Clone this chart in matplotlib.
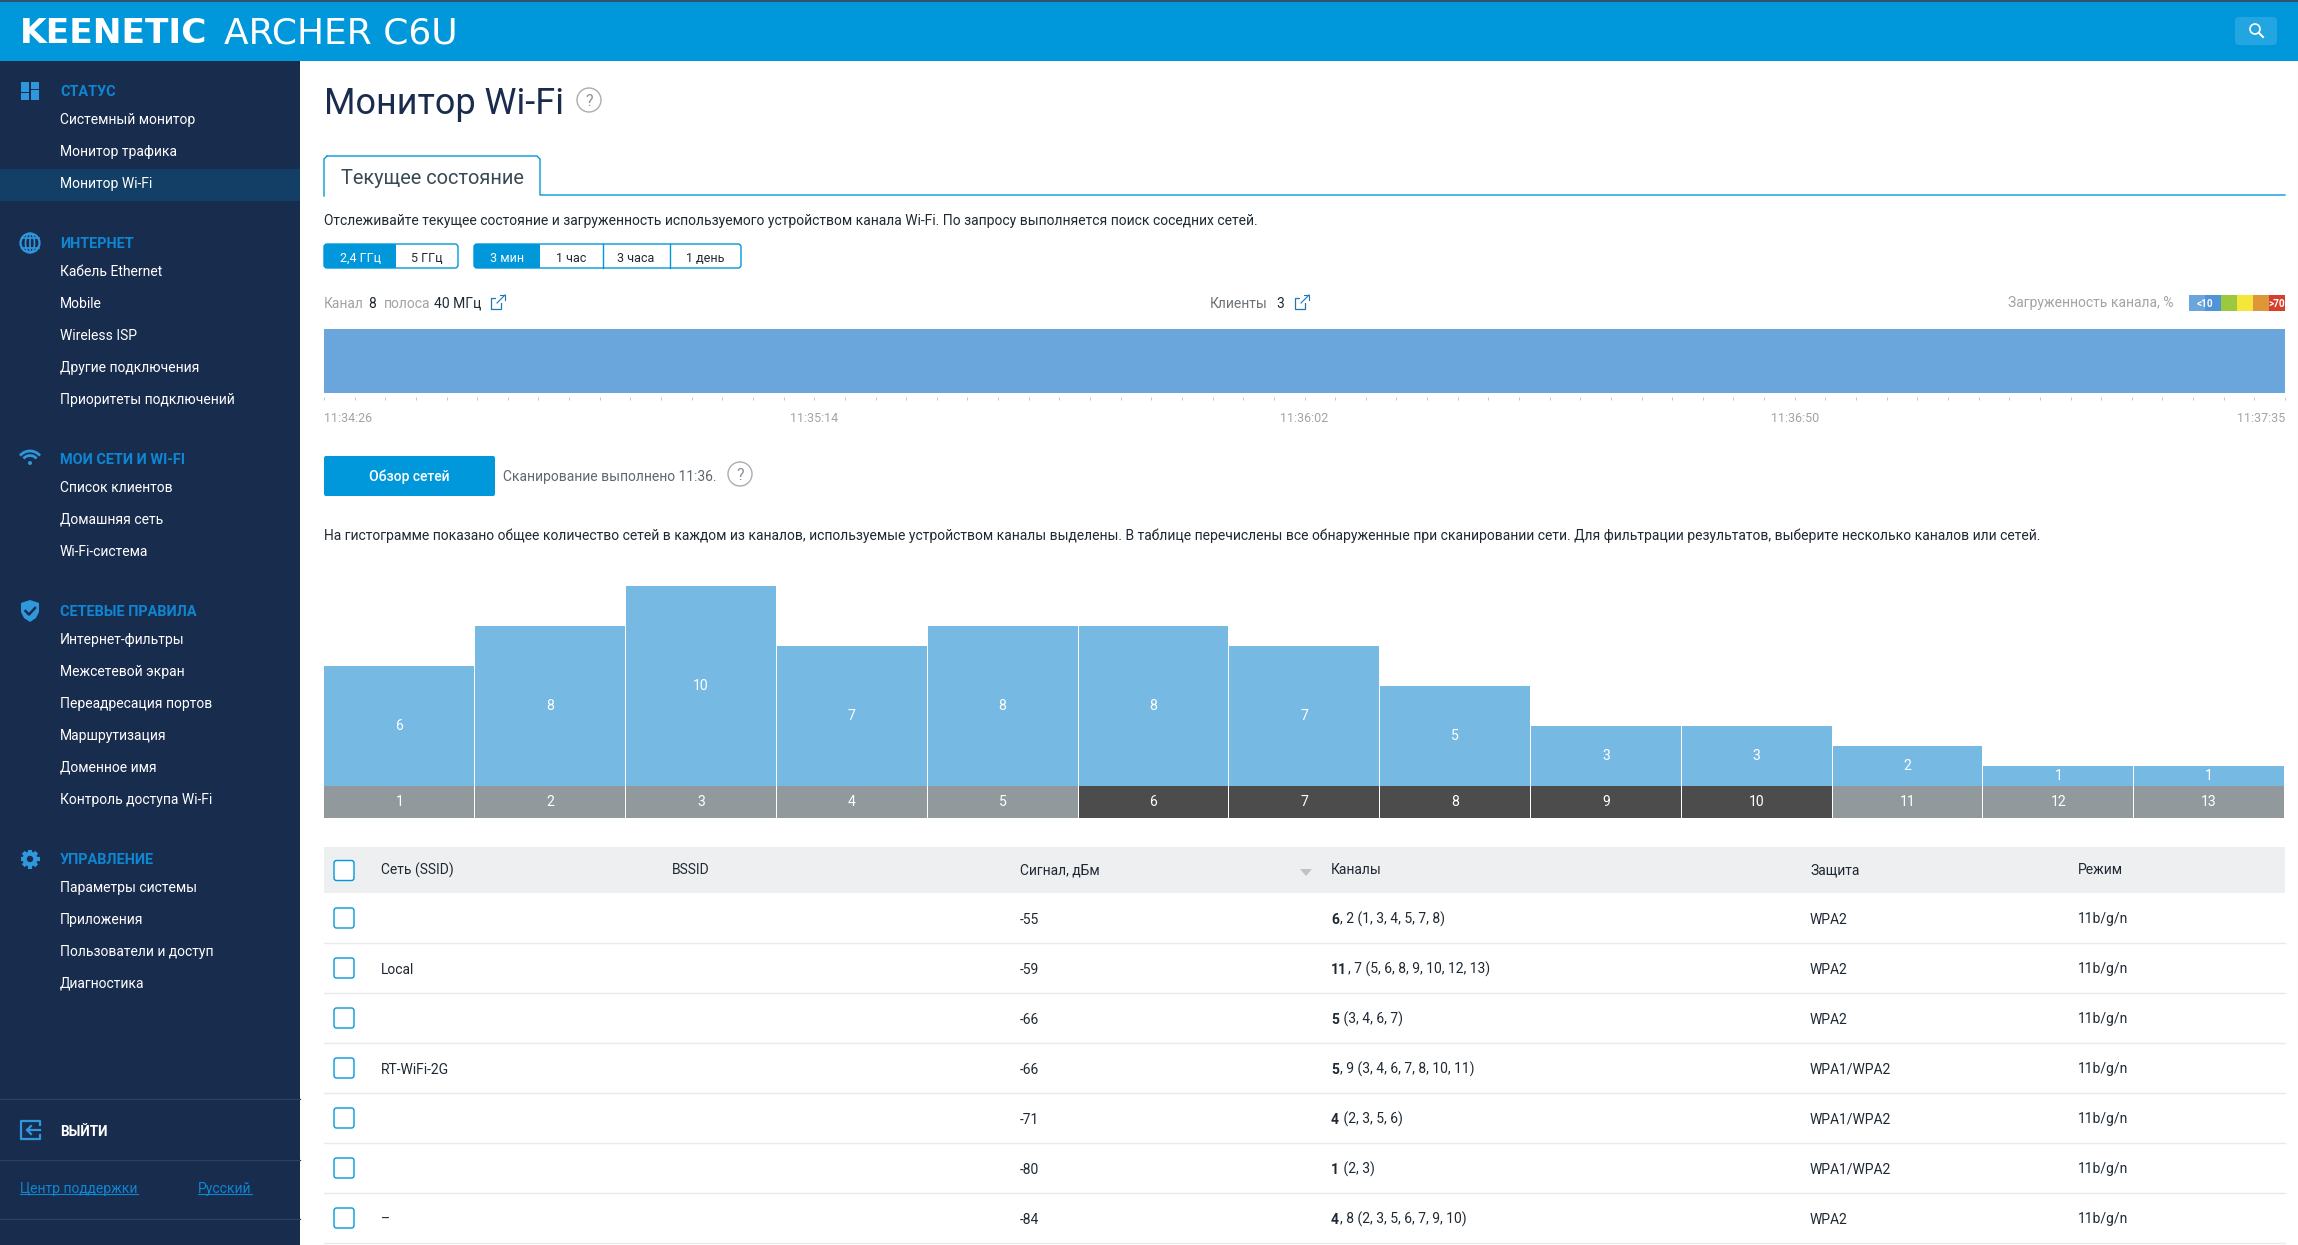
import numpy as np
import matplotlib
matplotlib.use('Agg')
import matplotlib.pyplot as plt
from matplotlib.patches import Rectangle, FancyBboxPatch, Circle, Arc, Polygon, Ellipse

plt.rcParams['font.family'] = ['Roboto', 'DejaVu Sans']

W, H = 2298, 1245

# histogram
channels = [1, 2, 3, 4, 5, 6, 7, 8, 9, 10, 11, 12, 13]
network_counts = [6, 8, 10, 7, 8, 8, 7, 5, 3, 3, 2, 1, 1]
used_channels = [6, 7, 8, 9, 10]

# table
table_headers = ['Сеть (SSID)', 'BSSID', 'Сигнал, дБм', 'Каналы', 'Защита', 'Режим']
ssids = ['', 'Local', '', 'RT-WiFi-2G', '', '', '–']
signals = [-55, -59, -66, -66, -71, -80, -84]
main_channels = ['6', '11', '5', '5', '4', '1', '4']
other_channels = [', 2 (1, 3, 4, 5, 7, 8)', ', 7 (5, 6, 8, 9, 10, 12, 13)', ' (3, 4, 6, 7)',
                  ', 9 (3, 4, 6, 7, 8, 10, 11)', ' (2, 3, 5, 6)', ' (2, 3)', ', 8 (2, 3, 5, 6, 7, 9, 10)']
security = ['WPA2', 'WPA2', 'WPA2', 'WPA1/WPA2', 'WPA1/WPA2', 'WPA1/WPA2', 'WPA2']
modes = ['11b/g/n'] * 7

# sidebar
menu_titles = ['СТАТУС', 'ИНТЕРНЕТ', 'МОИ СЕТИ И WI-FI', 'СЕТЕВЫЕ ПРАВИЛА', 'УПРАВЛЕНИЕ']
menu_items = [
    ['Системный монитор', 'Монитор трафика', 'Монитор Wi-Fi'],
    ['Кабель Ethernet', 'Mobile', 'Wireless ISP', 'Другие подключения', 'Приоритеты подключений'],
    ['Список клиентов', 'Домашняя сеть', 'Wi-Fi-система'],
    ['Интернет-фильтры', 'Межсетевой экран', 'Переадресация портов', 'Маршрутизация',
     'Доменное имя', 'Контроль доступа Wi-Fi'],
    ['Параметры системы', 'Приложения', 'Пользователи и доступ', 'Диагностика'],
]
menu_title_y = [91, 243, 459, 611, 859]

# channel load strip
time_labels = ['11:34:26', '11:35:14', '11:36:02', '11:36:50', '11:37:35']
load_colors = ['#6aa6dc', '#4f93d8', '#9cc840', '#f5e63a', '#dd9638', '#d63f2b']

BLUE = '#0098db'
NAVY = '#182c4d'
DARK = '#1f2933'
GREY = '#a0a4a8'
BODY = 13.95


def fs(px):
    return px * 0.72


fig = plt.figure(figsize=(W / 100, H / 100), dpi=100, facecolor='white')
ax = fig.add_axes([0, 0, 1, 1])
ax.set_xlim(0, W)
ax.set_ylim(H, 0)
ax.axis('off')


def rect(x0, y0, x1, y1, color, z=1):
    ax.add_patch(Rectangle((x0, y0), x1 - x0, y1 - y0, fc=color, ec='none', zorder=z))


def rrect(x0, y0, x1, y1, fc, ec='none', r=3, lw=1.0, z=2):
    ax.add_patch(FancyBboxPatch((x0 + r, y0 + r), x1 - x0 - 2 * r, y1 - y0 - 2 * r,
                                boxstyle='round,pad=%g,rounding_size=%g' % (r, r),
                                fc=fc, ec=ec, lw=lw, zorder=z))


def txt(x, y, s, px=BODY, color=DARK, weight='normal', ha='left', z=5, family=None):
    t = ax.text(x, y, s, fontsize=fs(px), color=color, fontweight=weight, ha=ha, va='center_baseline', zorder=z)
    if family:
        t.set_family(family)
    return t


def pieces(x, y, parts, px=BODY):
    # several styles on one line, each piece starts where the last one ended
    r = fig.canvas.get_renderer()
    for s, color, weight in parts:
        t = txt(x, y, s, px=px, color=color, weight=weight)
        x = t.get_window_extent(r).x1 + 1


def help_icon(x, y):
    ax.add_patch(Circle((x, y), 12, fc='white', ec='#a9adb1', lw=1.0, zorder=3))
    txt(x, y, '?', px=16, color='#8f9499', ha='center')


def ext_icon(x, y):
    ax.add_patch(Rectangle((x, y + 3), 10, 11, fc='none', ec='#1f78b4', lw=0.9, zorder=3))
    rect(x + 5, y, x + 15, y + 8, 'white', z=4)
    ax.plot([x + 6, x + 14], [y + 8, y], color='#1f78b4', lw=0.8, zorder=5)
    ax.plot([x + 9, x + 14, x + 14], [y, y, y + 5], color='#1f78b4', lw=0.8, zorder=5)


# header
rect(0, 0, W, 61, BLUE)
rect(0, 0, W, 2, '#35506b', z=2)
txt(20, 30, 'KEENETIC', px=34.5, color='white', weight='bold', family='DejaVu Sans')
txt(224, 30, 'ARCHER C6U', px=36, color='white', family='DejaVu Sans')
rrect(2235, 17, 2277, 45, '#22a5e0', r=4)
ax.add_patch(Circle((2255, 29), 5, fc='none', ec='white', lw=1.2, zorder=5))
ax.plot([2259, 2263], [33, 37], color='white', lw=1.5, zorder=5)

# sidebar
rect(0, 61, 300, H, NAVY)
rect(0, 169, 300, 201, '#133f66', z=2)
for title, items, ty in zip(menu_titles, menu_items, menu_title_y):
    txt(60, ty, title, px=14.5, color='#0f86d2', weight='bold')
    for i, item in enumerate(items):
        txt(60, ty + 27.5 + i * 32, item, px=BODY, color='white')

ICON = '#2f97dc'
# status
for x0, y0, x1, y1 in [(21, 82, 29, 92), (21, 93, 29, 100), (31, 82, 39, 89), (31, 90, 39, 100)]:
    rect(x0, y0, x1, y1, ICON, z=3)
# globe
ax.add_patch(Circle((30, 243), 9.5, fc='none', ec=ICON, lw=1.6, zorder=3))
ax.add_patch(Ellipse((30, 243), 9, 19, fc='none', ec=ICON, lw=1.2, zorder=3))
for yy in (238, 248):
    ax.plot([21.5, 38.5], [yy, yy], color=ICON, lw=1.2, zorder=3)
ax.plot([30, 30], [234, 252], color=ICON, lw=1.2, zorder=3)
# wifi
for d in (26, 17):
    ax.add_patch(Arc((30, 464), d, d, theta1=220, theta2=320, ec=ICON, lw=2.0, zorder=3))
ax.add_patch(Circle((30, 463), 2, fc=ICON, ec='none', zorder=3))
# shield
ax.add_patch(Polygon([(30, 600), (39, 603), (39, 612), (36, 618), (30, 622), (24, 618), (21, 612), (21, 603)],
                     fc=ICON, ec='none', zorder=3))
ax.plot([25.5, 29, 35], [611, 614.5, 608], color=NAVY, lw=1.8, zorder=4)
# gear
ax.add_patch(Circle((30, 859), 7.5, fc=ICON, ec='none', zorder=3))
for a in np.deg2rad(np.arange(0, 360, 45)):
    ax.plot([30, 30 + 9.5 * np.cos(a)], [859, 859 + 9.5 * np.sin(a)], color=ICON, lw=3, zorder=3, solid_capstyle='butt')
ax.add_patch(Circle((30, 859), 3.2, fc=NAVY, ec='none', zorder=4))
# logout
for yy in (1099, 1160, 1219):
    ax.plot([0, 300], [yy, yy], color='#2d4263', lw=0.9, zorder=3)
ax.plot([40, 40, 21, 21, 40, 40], [1125, 1121, 1121, 1139, 1139, 1135], color=ICON, lw=1.6, zorder=3)
ax.plot([40, 27], [1130, 1130], color=ICON, lw=1.6, zorder=3)
ax.plot([31, 27, 31], [1126, 1130, 1134], color=ICON, lw=1.6, zorder=3)
txt(60, 1130, 'ВЫЙТИ', px=13.5, color='white', weight='bold')
txt(20, 1188, 'Центр поддержки', color='#0f86d2')
ax.plot([20, 138], [1194, 1194], color='#0f86d2', lw=0.8, zorder=5)
txt(198, 1188, 'Русский', color='#0f86d2')
ax.plot([198, 252], [1194, 1194], color='#0f86d2', lw=0.8, zorder=5)

# title and tab
txt(324, 100, 'Монитор Wi-Fi', px=36, color='#1a2c4d')
help_icon(589, 100)
ax.plot([324, 324, 327], [196, 159, 156], color=BLUE, lw=1.0, zorder=3)
ax.plot([327, 537, 540, 540, 2285], [156, 156, 159, 195, 195], color=BLUE, lw=1.0, zorder=3)
txt(341, 177, 'Текущее состояние', px=20, color='#3a4a55')
txt(324, 220, 'Отслеживайте текущее состояние и загруженность используемого устройством канала Wi-Fi. По запросу выполняется поиск соседних сетей.')

# period buttons
for x0, x1, sel, lines, labels, centers in [
    (324, 458, 396, [], ['2,4 ГГц', '5 ГГц'], [360, 427]),
    (474, 741, 540, [603, 670], ['3 мин', '1 час', '3 часа', '1 день'], [507, 571, 636, 705]),
]:
    rrect(x0, 244, x1, 268, 'white', ec=BLUE, r=3)
    rrect(x0, 244, sel, 268, BLUE, r=3, z=3)
    rect(sel - 6, 244, sel, 268, BLUE, z=3)
    for xl in lines:
        ax.plot([xl, xl], [244, 268], color=BLUE, lw=1.0, zorder=3)
    for i, (lab, c) in enumerate(zip(labels, centers)):
        txt(c, 257, lab, px=12.5, color='white' if i == 0 else DARK, ha='center')

# channel load header
txt(324, 302, 'Канал', color=GREY)
txt(368, 302, '8')
txt(384, 302, 'полоса', color=GREY)
txt(434, 302, '40 МГц')
ext_icon(491, 295)
txt(1210, 302, 'Клиенты', color='#6b7278')
txt(1276, 302, '3')
ext_icon(1295, 295)
txt(2173, 302, 'Загруженность канала, %', color=GREY, ha='right')
for i, c in enumerate(load_colors):
    rect(2189 + i * 16, 295, 2205 + i * 16, 311, c)
txt(2197, 303, '<10', px=10, color='white', weight='bold', z=6)
txt(2277, 303, '>70', px=10, color='white', weight='bold', ha='center', z=6)

# channel load strip, own axes, labels are evenly spaced
ax_load = fig.add_axes([324 / W, 1 - 393 / H, (2285 - 324) / W, 64 / H])
ax_load.set_xlim(0, len(time_labels) - 1)
ax_load.set_ylim(0, 1)
ax_load.axhspan(0, 1, color='#6aa6dc', lw=0)
for s in ['top', 'left', 'right', 'bottom']:
    ax_load.spines[s].set_visible(False)
ax_load.spines['bottom'].set_position(('outward', 3.2))
ax_load.set_yticks([])
ax_load.set_xticks(np.linspace(0, len(time_labels) - 1, 65))
ax_load.tick_params(axis='x', length=2.4, width=0.7, color='#c4c8cb', labelbottom=False)
aligns = ['left', 'center', 'center', 'center', 'right']
for i, (lab, al) in enumerate(zip(time_labels, aligns)):
    txt(324 + i / (len(time_labels) - 1) * (2285 - 324), 417.5, lab, px=12.5, color=GREY, ha=al)

# scan
rrect(324, 456, 495, 496, BLUE, r=2)
txt(409.5, 475, 'Обзор сетей', color='white', ha='center', weight='medium')
txt(503, 475, 'Сканирование выполнено 11:36.', color='#5f6770')
help_icon(740, 474)
txt(324, 534.5, 'На гистограмме показано общее количество сетей в каждом из каналов, используемые устройством каналы выделены. В таблице перечислены все обнаруженные при сканировании сети. Для фильтрации результатов, выберите несколько каналов или сетей.')

# histogram, own axes: 20 px per network, 32 px grey band
ax_hist = fig.add_axes([324 / W, 1 - 818 / H, (2284.5 - 324) / W, 232 / H])
ax_hist.set_xlim(0.5, 13.5)
ax_hist.set_ylim(-1.6, 10)
ax_hist.axis('off')
ax_hist.bar(channels, network_counts, width=0.9934, color='#76bae4', lw=0)
band_colors = ['#4c4c4c' if c in used_channels else '#92999d' for c in channels]
ax_hist.bar(channels, [1.6] * 13, bottom=-1.6, width=0.9934, color=band_colors, lw=0)
for c, n in zip(channels, network_counts):
    ax_hist.text(c, n / 2 + 0.05, str(n), color='white', fontsize=fs(14), ha='center', va='center_baseline')
    ax_hist.text(c, -0.75, str(c), color='white', fontsize=fs(14), ha='center', va='center_baseline')

# table
rect(324, 847, 2285, 893, '#eeeff1')
col_x = [381, 672, 1020, 1331, 1810, 2078]
for x, h in zip(col_x, table_headers):
    txt(x, 869, h)
ax.add_patch(Polygon([(1300, 869), (1312, 869), (1306, 876)], fc='#c0c3c6', ec='none', zorder=3))


def checkbox(yc):
    rrect(334, yc - 10, 354, yc + 10, 'white', ec=BLUE, r=2.5, lw=1.0, z=3)


checkbox(870.5)
for i in range(len(signals)):
    yc = 918 + i * 50
    checkbox(yc)
    ax.plot([324, 2285], [yc + 25, yc + 25], color='#e8eaec', lw=1.0, zorder=2)
    if ssids[i]:
        txt(col_x[0], yc, ssids[i])
    txt(col_x[2], yc, str(signals[i]))
    pieces(col_x[3], yc, [(main_channels[i], DARK, 'bold'), (other_channels[i], DARK, 'normal')])
    txt(col_x[4], yc, security[i])
    txt(col_x[5], yc, modes[i])

# scrollbar edge
ax.plot([2297.5, 2297.5], [61, 1046], color='#d8d8d8', lw=0.8, zorder=3)

fig.savefig('out.png', dpi=100, facecolor='white')
